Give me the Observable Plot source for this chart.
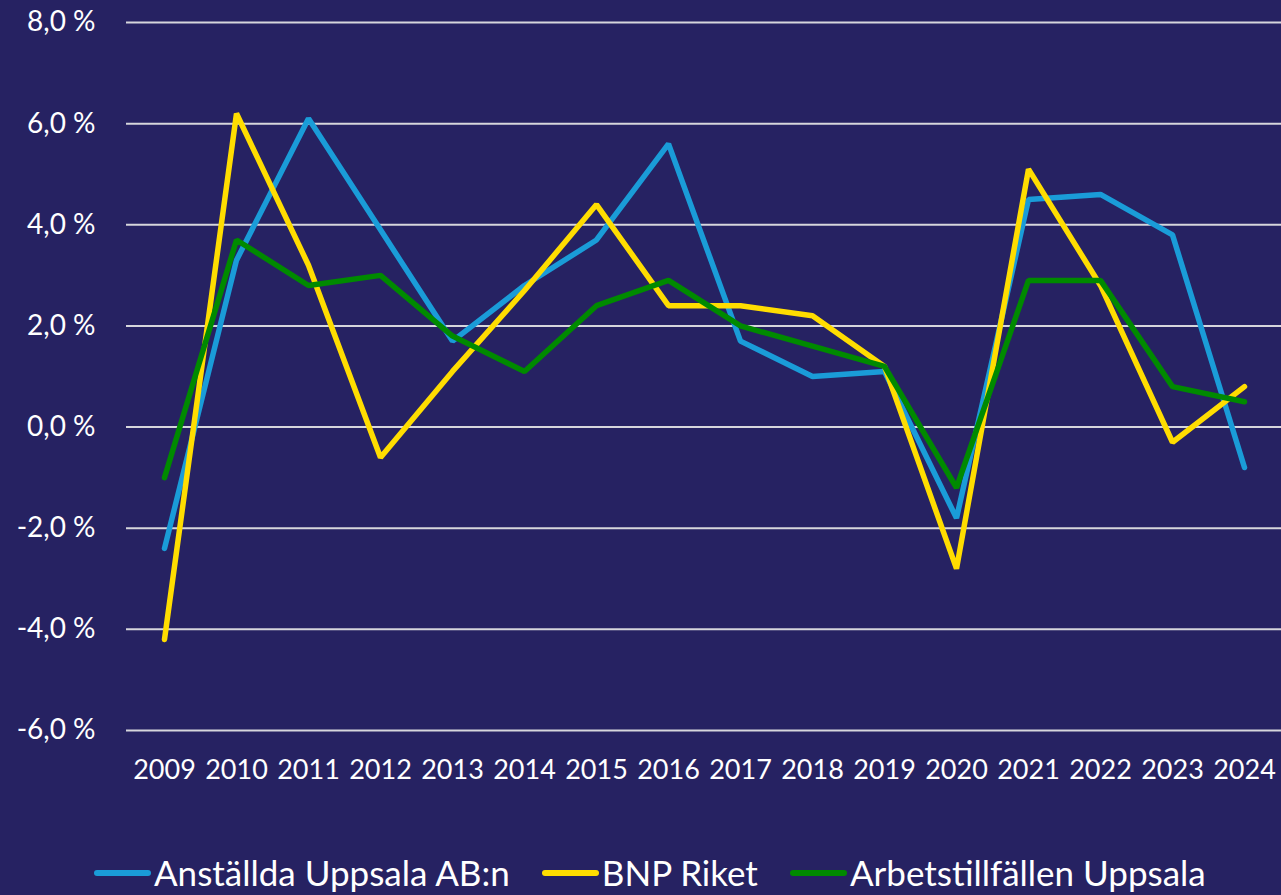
<!DOCTYPE html>
<html>
<head>
<meta charset="utf-8">
<script src="https://cdn.jsdelivr.net/npm/d3@7"></script>
<script src="https://cdn.jsdelivr.net/npm/@observablehq/plot@0.6"></script>
<style>
  html, body { margin: 0; padding: 0; background: #262262; overflow: hidden; }
  body { width: 1281px; height: 895px; font-family: Lato, "Open Sans", sans-serif; }
  #chart svg { display: block; }
  .legend { display: flex; align-items: center; margin-left: 94px; margin-top: 22px; height: 40px; line-height: 40px; color: #ffffff; font-size: 35px; font-family: Lato, sans-serif; white-space: nowrap; }
  .item { display: flex; align-items: center; margin-right: 32px; height: 40px; }
  .sw { width: 57px; height: 6px; border-radius: 3px; margin-right: 3px; margin-top: 2px; }
</style>
</head>
<body>
<div id="chart"></div>
<div class="legend" id="legend"></div>
<script>
const years = [2009,2010,2011,2012,2013,2014,2015,2016,2017,2018,2019,2020,2021,2022,2023,2024];
const anstallda = [-2.4, 3.3, 6.1, 3.9, 1.7, 2.8, 3.7, 5.6, 1.7, 1.0, 1.1, -1.8, 4.5, 4.6, 3.8, -0.8];
const bnp = [-4.2, 6.2, 3.2, -0.6, 1.1, 2.7, 4.4, 2.4, 2.4, 2.2, 1.2, -2.8, 5.1, 2.8, -0.3, 0.8];
const arbetstillfallen = [-1.0, 3.7, 2.8, 3.0, 1.8, 1.1, 2.4, 2.9, 2.0, 1.6, 1.2, -1.2, 2.9, 2.9, 0.8, 0.5];
const seriesNames = ["Anställda Uppsala AB:n", "BNP Riket", "Arbetstillfällen Uppsala"];
const seriesColors = ["#1a9cd8", "#ffdd00", "#008a00"];
const yTicks = [-6, -4, -2, 0, 2, 4, 6, 8];

const seriesValues = [anstallda, bnp, arbetstillfallen];
const data = [];
seriesNames.forEach((name, i) => {
  years.forEach((yr, j) => data.push({series: name, year: String(yr), value: seriesValues[i][j]}));
});

const fmt = d => d.toFixed(1).replace(".", ",") + " %";

const chart = Plot.plot({
  width: 1281,
  height: 830,
  marginLeft: 126,
  marginRight: 0,
  marginTop: 22,
  marginBottom: 100,
  style: {background: "transparent", color: "#ffffff", fontFamily: "Lato, sans-serif", fontSize: "28px"},
  x: {type: "point", domain: years.map(String), padding: 0.5, label: null},
  y: {domain: [-6, 8], ticks: yTicks, label: null, tickFormat: fmt},
  color: {domain: seriesNames, range: seriesColors},
  marks: [
    Plot.ruleY(yTicks, {stroke: "#d6d6dc", strokeWidth: 2, strokeOpacity: 1}),
    Plot.axisY({ticks: yTicks, tickSize: 0, tickPadding: 31, tickFormat: fmt, label: null, fontSize: 28}),
    Plot.axisX({tickSize: 0, tickPadding: 29, label: null, fontSize: 27}),
    Plot.line(data, {x: "year", y: "value", z: "series", stroke: "series", strokeWidth: 5.5, strokeLinecap: "round", strokeLinejoin: "miter"})
  ]
});
document.getElementById("chart").appendChild(chart);

const legend = document.getElementById("legend");
seriesNames.forEach((name, i) => {
  const item = document.createElement("div");
  item.className = "item";
  const sw = document.createElement("div");
  sw.className = "sw";
  sw.style.background = seriesColors[i];
  const lab = document.createElement("span");
  lab.textContent = name;
  item.appendChild(sw);
  item.appendChild(lab);
  legend.appendChild(item);
});
</script>
</body>
</html>
